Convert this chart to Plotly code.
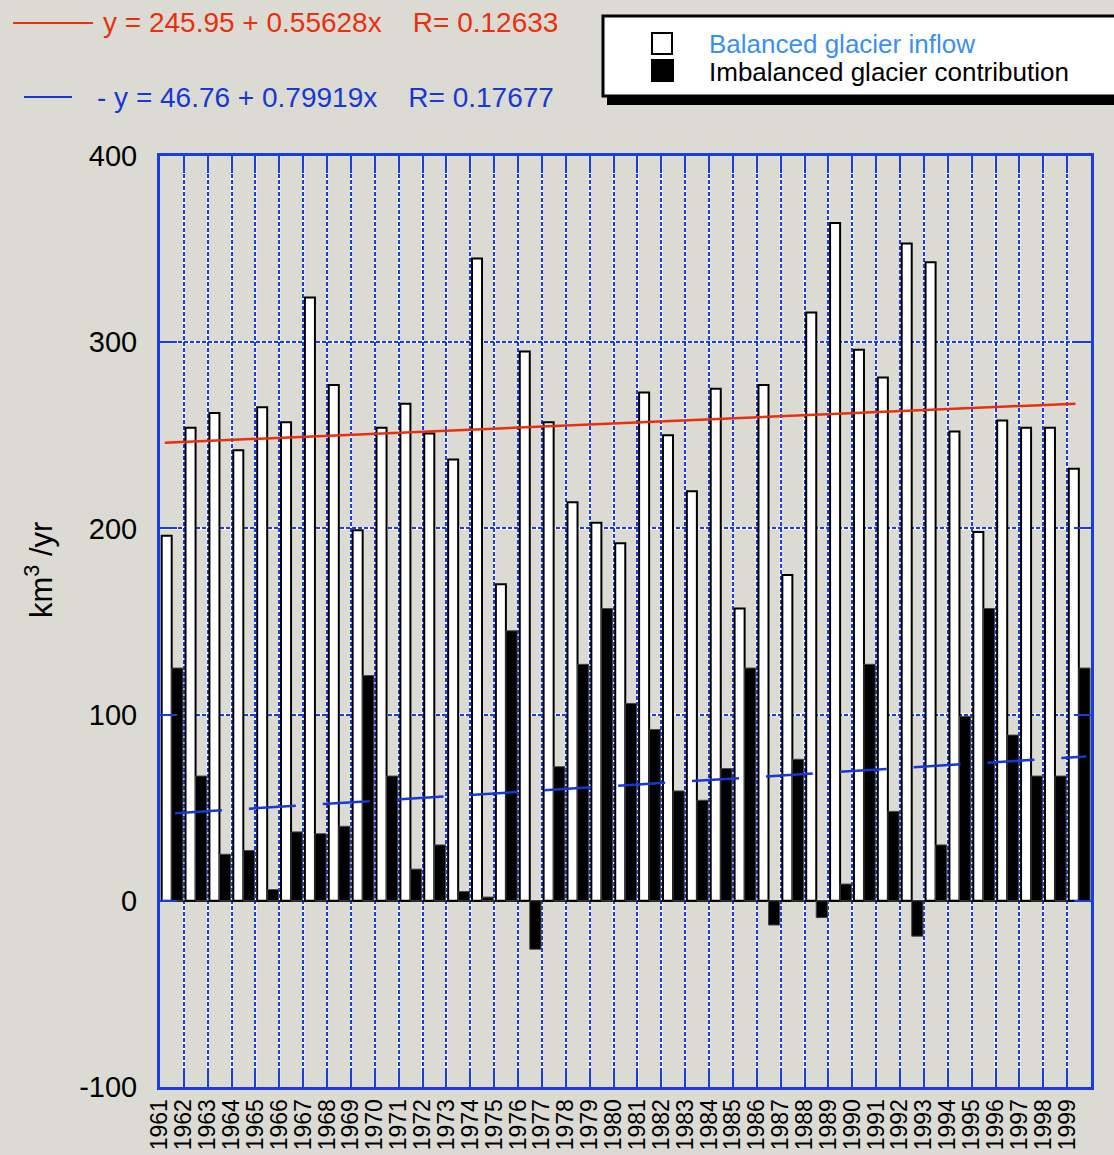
"""Balanced vs imbalanced glacier inflow, 1961-1999."""

import plotly.graph_objects as go

# Data
YEARS = list(range(1961, 2000))
BALANCED = [196, 254, 262, 242, 265, 257, 324, 277, 199, 254,
            267, 251, 237, 345, 170, 295, 257, 214, 203, 192,
            273, 250, 220, 275, 157, 277, 175, 316, 364, 296,
            281, 353, 343, 252, 198, 258, 254, 254, 232]
IMBALANCED = [125, 67, 25, 27, 6, 37, 36, 40, 121, 67,
              17, 30, 5, 2, 145, -26, 72, 127, 157, 106,
              92, 59, 54, 71, 125, -13, 76, -9, 9, 127,
              48, -19, 30, 99, 157, 89, 67, 67, 125]

# Fitted trend lines, end points as drawn
RED_TREND_X = [1961.2, 1999.35]
RED_TREND_Y = [246, 267]
BLUE_TREND_X = [1961.63, 1999.8]
BLUE_TREND_Y = [47, 77.5]

Y_TICKS = [-100, 0, 100, 200, 300, 400]

RED_LABEL = "y = 245.95 + 0.55628x    R= 0.12633"
BLUE_LABEL = "- y = 46.76 + 0.79919x    R= 0.17677"

BG = "#dbdbd3"
FRAME_BLUE = "#1a3de0"
RED = "#e8300e"
BLUE = "#1638d6"
LIGHT_BLUE = "#3a8ff5"
FONT = "Liberation Sans, Arial, Helvetica, sans-serif"

# plot area in screen pixels (body margin is removed below)
PL, PR, PT, PB = 160, 1091, 156, 1087
W, H = 1114, 1155


def px(x):
    return (x - PL) / (PR - PL)


def py(y):
    return (PB - y) / (PB - PT)


fig = go.Figure()

fig.add_trace(
    go.Bar(
        x=YEARS,
        y=BALANCED,
        offset=0.07,
        width=0.42,
        marker=dict(color="white", line=dict(color="black", width=2)),
        name="Balanced glacier inflow",
    )
)
fig.add_trace(
    go.Bar(
        x=YEARS,
        y=IMBALANCED,
        offset=0.49,
        width=0.47,
        marker=dict(color="black", line=dict(color="#444444", width=1)),
        name="Imbalanced glacier contribution",
    )
)

fig.add_trace(
    go.Scatter(
        x=RED_TREND_X,
        y=RED_TREND_Y,
        mode="lines",
        line=dict(color=RED, width=2.5),
        name="red trend",
    )
)
fig.add_trace(
    go.Scatter(
        x=BLUE_TREND_X,
        y=BLUE_TREND_Y,
        mode="lines",
        line=dict(color=BLUE, width=2.5, dash="47px,27px"),
        name="blue trend",
    )
)

shapes = []
# white underlay so the dotted grid reads blue/white
for yr in YEARS[1:]:
    shapes.append(dict(type="line", xref="x", yref="paper", x0=yr, x1=yr, y0=0, y1=1,
                       line=dict(color="white", width=2), layer="below"))
for yv in Y_TICKS[1:-1]:
    shapes.append(dict(type="line", xref="paper", yref="y", x0=0, x1=1, y0=yv, y1=yv,
                       line=dict(color="white", width=2), layer="below"))

# legend box with drop shadow
shapes.append(dict(type="rect", xref="paper", yref="paper",
                   x0=px(607), x1=px(1135), y0=py(105), y1=py(22),
                   fillcolor="black", line=dict(width=0)))
shapes.append(dict(type="rect", xref="paper", yref="paper",
                   x0=px(603), x1=px(1130), y0=py(96), y1=py(16),
                   fillcolor="white", line=dict(color="black", width=3)))
shapes.append(dict(type="rect", xref="paper", yref="paper",
                   x0=px(652), x1=px(672), y0=py(54), y1=py(33),
                   fillcolor="white", line=dict(color="black", width=2)))
shapes.append(dict(type="rect", xref="paper", yref="paper",
                   x0=px(651), x1=px(674), y0=py(82), y1=py(59),
                   fillcolor="black", line=dict(width=0)))

# trend line samples
shapes.append(dict(type="line", xref="paper", yref="paper",
                   x0=px(13), x1=px(93), y0=py(23), y1=py(23),
                   line=dict(color=RED, width=2)))
shapes.append(dict(type="line", xref="paper", yref="paper",
                   x0=px(24), x1=px(72), y0=py(97), y1=py(97),
                   line=dict(color=BLUE, width=2)))

annotations = [
    dict(text=RED_LABEL, x=px(101), y=py(22), font=dict(size=28, color=RED)),
    dict(text=BLUE_LABEL, x=px(95), y=py(97), font=dict(size=28, color=BLUE)),
    dict(text="Balanced glacier inflow", x=px(707), y=py(44),
         font=dict(size=26, color=LIGHT_BLUE)),
    dict(text="Imbalanced glacier contribution", x=px(707), y=py(72),
         font=dict(size=26, color="black")),
]
for a in annotations:
    a.update(xref="paper", yref="paper", xanchor="left", yanchor="middle", showarrow=False)

annotations.append(
    dict(text="km<sup>3</sup> /yr", xref="paper", yref="paper", x=px(39), y=py(570),
         xanchor="center", yanchor="middle", textangle=-90, showarrow=False,
         font=dict(size=31, color="black"))
)

axis_style = dict(
    showgrid=True,
    gridcolor=FRAME_BLUE,
    gridwidth=2,
    griddash="4px,2px",
    ticks="inside",
    ticklen=17,
    tickwidth=2,
    tickcolor=FRAME_BLUE,
    showline=True,
    linecolor=FRAME_BLUE,
    linewidth=3,
    mirror="ticks",
)

fig.update_layout(
    width=W,
    height=H,
    margin=dict(l=PL, r=W - PR, t=PT, b=H - PB, autoexpand=False),
    paper_bgcolor=BG,
    plot_bgcolor=BG,
    font=dict(family=FONT, color="black"),
    barmode="overlay",
    showlegend=False,
    shapes=shapes,
    annotations=annotations,
    xaxis=dict(
        range=[1961, 2000],
        tickvals=YEARS,
        ticktext=[str(y) for y in YEARS],
        tickangle=-90,
        tickfont=dict(size=23, color="black"),
        ticklabelstandoff=0,
        zeroline=False,
        **axis_style,
    ),
    yaxis=dict(
        range=[-100, 400],
        tickvals=Y_TICKS,
        ticktext=[str(v) for v in Y_TICKS],
        tickfont=dict(size=29, color="black"),
        ticklabelstandoff=14,
        zeroline=True,
        zerolinecolor="#222222",
        zerolinewidth=2,
        **axis_style,
    ),
)

# figure fills the window: no body margin, grey page, no scrollbars
page_js = (
    "document.body.style.margin='0';"
    "document.body.style.background='" + BG + "';"
    "document.body.style.overflow='hidden';"
)
fig.write_html("out.html", post_script=page_js, config={"displayModeBar": False})
